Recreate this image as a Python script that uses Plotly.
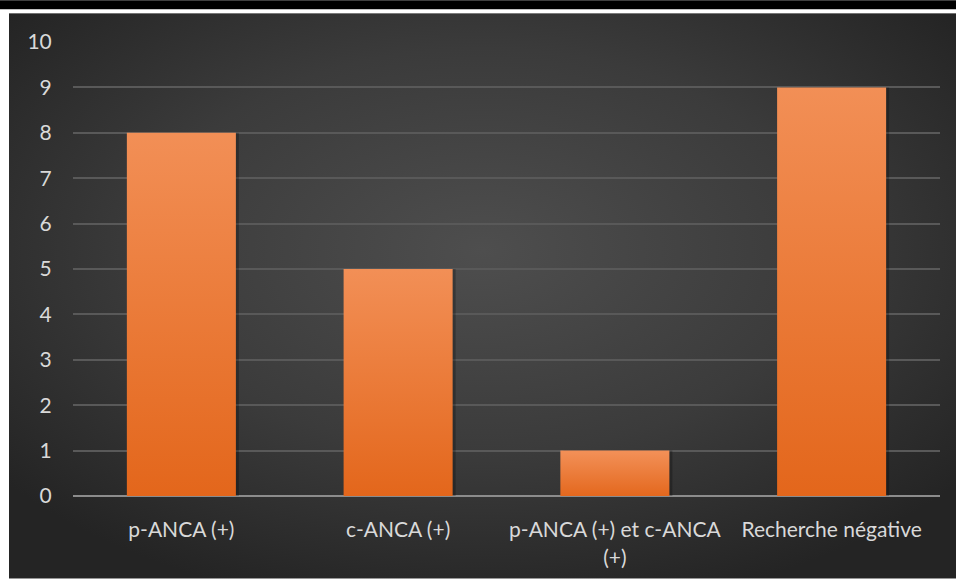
import base64
import plotly.graph_objects as go

# Data
categories = ["p-ANCA (+)", "c-ANCA (+)", "p-ANCA (+) et c-ANCA<br>(+)", "Recherche négative"]
values = [8, 5, 1, 9]
y_ticks = list(range(0, 11))

W, H = 956, 581
ML, MR, MT, MB = 73, 16, 42, 83
PW, PH = W - ML - MR, H - MT - MB

def px_x(p):
    return (p - ML) / PW

def px_y(p):
    return (H - MB - p) / PH

BAR_W = 0.503
SHADOW_DX = 3 / PW * 4

fig = go.Figure()

# Dark backdrop with a soft radial light
svg = """<svg xmlns='http://www.w3.org/2000/svg' width='947' height='568' viewBox='0 0 947 568' preserveAspectRatio='none'>
<defs><radialGradient id='g' cx='50%' cy='42%' r='65%'>
<stop offset='0%' stop-color='#4e4e4e'/>
<stop offset='55%' stop-color='#3b3b3b'/>
<stop offset='100%' stop-color='#242424'/>
</radialGradient></defs>
<rect width='947' height='568' fill='url(#g)'/></svg>"""
src = "data:image/svg+xml;base64," + base64.b64encode(svg.encode()).decode()
fig.add_layout_image(dict(source=src, xref="paper", yref="paper",
                          x=px_x(9), y=px_y(13), sizex=px_x(W) - px_x(9),
                          sizey=px_y(13) - px_y(H), sizing="stretch",
                          xanchor="left", yanchor="top", layer="below"))

# Bars: soft shadow then vertical orange gradient
for i, v in enumerate(values):
    x0, x1 = i - BAR_W / 2, i + BAR_W / 2
    fig.add_trace(go.Scatter(
        x=[x0 + SHADOW_DX, x1 + SHADOW_DX, x1 + SHADOW_DX, x0 + SHADOW_DX, x0 + SHADOW_DX],
        y=[0, 0, v, v, 0], mode="lines", fill="toself",
        fillcolor="rgba(0,0,0,0.25)", line=dict(width=0),
        hoverinfo="skip", showlegend=False))
    fig.add_trace(go.Scatter(
        x=[x0, x1, x1, x0, x0], y=[0, 0, v, v, 0], mode="lines", fill="toself",
        fillgradient=dict(type="vertical", start=0, stop=v,
                          colorscale=[[0, "#E3661B"], [1, "#F28F56"]]),
        line=dict(width=0), name=categories[i].replace("<br>", " "),
        hovertemplate="%{text}<extra></extra>", text=[str(v)] * 5,
        showlegend=False))

fig.update_layout(
    width=W, height=H,
    margin=dict(l=ML, r=MR, t=MT, b=MB),
    paper_bgcolor="white", plot_bgcolor="rgba(0,0,0,0)",
    font=dict(family="Lato, Noto Sans, sans-serif", size=21, color="#D9D9D9"),
    showlegend=False,
    shapes=[dict(type="rect", xref="paper", yref="paper",
                 x0=px_x(0), x1=px_x(W), y0=px_y(9), y1=px_y(0),
                 fillcolor="black", line=dict(width=0), layer="above")],
)
fig.update_xaxes(range=[-0.5, 3.5], tickvals=list(range(len(categories))),
                 ticktext=categories, showgrid=False, zeroline=False,
                 showline=False, ticks="outside", ticklen=15,
                 tickcolor="rgba(0,0,0,0)", fixedrange=True)
fig.update_yaxes(range=[0, 10], tickvals=y_ticks, showgrid=True,
                 gridcolor="#595959", gridwidth=1.5, zeroline=True,
                 zerolinecolor="#8c8c8c", zerolinewidth=2,
                 ticks="outside", ticklen=16, tickcolor="rgba(0,0,0,0)",
                 fixedrange=True)

fig.write_html("out.html")
